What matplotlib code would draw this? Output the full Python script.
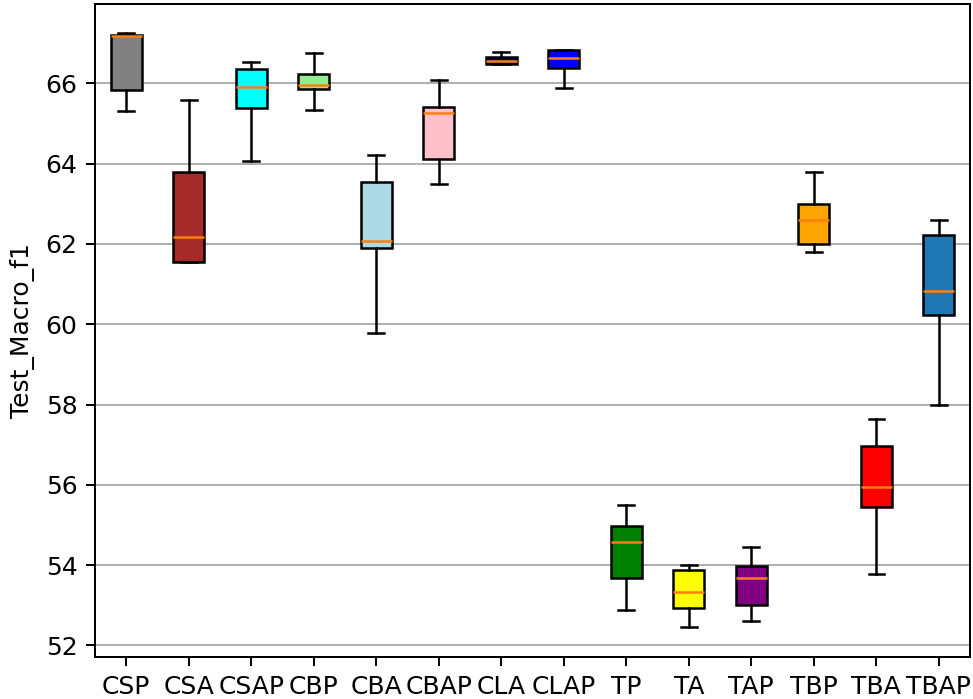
import matplotlib
matplotlib.use("Agg")
from matplotlib import pyplot as plt

labels = ["CSP", "CSA", "CSAP", "CBP", "CBA", "CBAP", "CLA", "CLAP",
          "TP", "TA", "TAP", "TBP", "TBA", "TBAP"]
whislo = [65.30, 61.56, 64.06, 65.33, 59.79, 63.50, 66.48, 65.88,
          52.88, 52.46, 52.61, 61.80, 53.79, 57.99]
q1 = [65.84, 61.56, 65.38, 65.85, 61.89, 64.12, 66.49, 66.38,
      53.69, 52.92, 53.00, 61.99, 55.44, 60.22]
med = [67.19, 62.18, 65.91, 65.95, 62.07, 65.26, 66.55, 66.63,
       54.58, 53.33, 53.69, 62.60, 55.95, 60.83]
q3 = [67.21, 63.80, 66.36, 66.23, 63.55, 65.41, 66.65, 66.84,
      54.98, 53.87, 53.99, 62.99, 56.96, 62.21]
whishi = [67.26, 65.59, 66.53, 66.75, 64.21, 66.07, 66.78, 66.84,
          55.49, 54.00, 54.46, 63.78, 57.65, 62.60]
colors = ["gray", "brown", "cyan", "lightgreen", "lightblue", "pink", "navy", "blue",
          "green", "yellow", "purple", "orange", "red", "C0"]

stats = []
for i in range(len(labels)):
    stats.append({"label": labels[i], "whislo": whislo[i], "q1": q1[i], "med": med[i],
                  "q3": q3[i], "whishi": whishi[i], "fliers": []})

dpi = 180
fig = plt.figure(figsize=(973/dpi, 699/dpi), dpi=dpi)
ax = fig.add_axes([0.0976, 0.06, 0.8994, 0.934])
bp = ax.bxp(stats, patch_artist=True)
for patch, c in zip(bp["boxes"], colors):
    patch.set_facecolor(c)
ax.set_ylim(51.71, 67.97)
ax.yaxis.grid(True)
ax.set_axisbelow(True)
ax.set_ylabel("Test_Macro_f1")
fig.savefig("out.png", dpi=dpi)
